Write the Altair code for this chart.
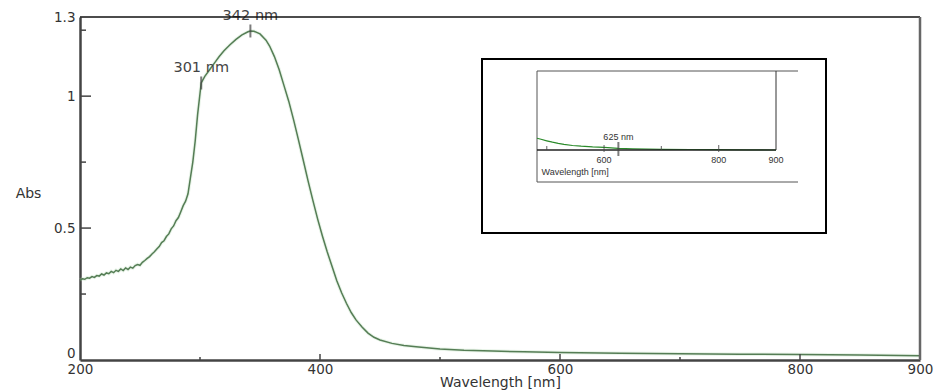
import altair as alt
import pandas as pd

# ---------------- data ----------------
wavelength = [200, 202, 204, 206, 208, 210, 212, 214, 216, 218, 220, 222, 224, 226, 228,
              230, 232, 234, 236, 238, 240, 242, 244, 246, 248, 250, 252, 254, 256, 258,
              260, 262, 264, 266, 268, 270, 272, 274, 276, 278, 280, 282, 284, 286, 288,
              290, 292, 294, 296, 298, 300, 301, 304, 308, 312, 316, 320, 325, 330, 335,
              340, 342, 345, 350, 355, 358, 362, 366, 370, 374, 378, 382, 386, 390, 394,
              398, 402, 406, 410, 414, 418, 422, 426, 430, 435, 440, 445, 450, 460, 470,
              480, 500, 520, 544, 570, 600, 650, 700, 750, 800, 850, 900]
absorbance = [0.303, 0.308, 0.306, 0.312, 0.310, 0.316, 0.313, 0.320, 0.318, 0.326, 0.322,
              0.330, 0.327, 0.336, 0.331, 0.340, 0.336, 0.345, 0.339, 0.349, 0.343, 0.352,
              0.348, 0.358, 0.362, 0.359, 0.370, 0.377, 0.385, 0.392, 0.402, 0.410, 0.421,
              0.430, 0.445, 0.452, 0.468, 0.478, 0.497, 0.508, 0.528, 0.540, 0.562, 0.585,
              0.602, 0.630, 0.690, 0.750, 0.830, 0.930, 1.010, 1.050, 1.075, 1.100, 1.125,
              1.150, 1.172, 1.195, 1.215, 1.232, 1.244, 1.247, 1.246, 1.236, 1.212, 1.190,
              1.150, 1.100, 1.040, 0.980, 0.910, 0.835, 0.758, 0.680, 0.606, 0.535, 0.470,
              0.410, 0.355, 0.300, 0.255, 0.215, 0.180, 0.152, 0.125, 0.102, 0.086, 0.076,
              0.063, 0.055, 0.050, 0.042, 0.037, 0.034, 0.031, 0.028, 0.026, 0.024, 0.022,
              0.021, 0.019, 0.016]

peak_wl = [301, 342]
peak_abs = [1.05, 1.247]
peak_text = ["301 nm", "342 nm"]

x_label_values = [200, 400, 600, 800, 900]
y_label_values = [0, 0.5, 1, 1.3]
x_major_ticks = [400, 600, 800]
x_minor_ticks = [300, 500, 700]
y_major_ticks = [0.5, 1.0]
y_minor_ticks = [0.25, 0.75, 1.25]

inset_wl = [483, 490, 500, 510, 520, 530, 545, 560, 580, 600, 625, 650, 700, 750, 800, 850, 900]
inset_abs = [0.0453, 0.0428, 0.0390, 0.0355, 0.0325, 0.0300, 0.0273, 0.0255, 0.0238, 0.0228,
             0.0203, 0.0190, 0.0178, 0.0173, 0.0168, 0.0164, 0.0160]
inset_baseline = 0.016
inset_label_values = [600, 800, 900]
inset_major_ticks = [600, 800]
inset_minor_ticks = [500, 700]
inset_marker_wl = [625]
inset_marker_text = ["625 nm"]
inset_axis_title = "Wavelength [nm]"
inset_title_wl = 491

# ---------------- layout ----------------
W, H = 840, 343
FONT = "DejaVu Sans"
SMALL_FONT = "Liberation Sans"
TEXT = "#333333"
LINE = "#2b552b"

IN_L, IN_R = 457, 696          # x (px in plot) of 483 nm and 900 nm in the inset
IN_AXIS_Y = 133                # y (px in plot) of the inset baseline
IN_PX_PER_UNIT = 400.0
nm_per_px = (900 - 483) / (IN_R - IN_L)
inset_x_domain = [483 - IN_L * nm_per_px, 900 + (W - IN_R) * nm_per_px]
inset_y_domain = [inset_baseline - (H - IN_AXIS_Y) / IN_PX_PER_UNIT,
                  inset_baseline + IN_AXIS_Y / IN_PX_PER_UNIT]

main_df = pd.DataFrame({"wl": wavelength, "abs": absorbance})
peak_df = pd.DataFrame({"wl": peak_wl, "abs": peak_abs, "text": peak_text})
one = pd.DataFrame({"k": [0]})


def XS():
    return alt.Scale(domain=[200, 900], nice=False, zero=False)


def YS():
    return alt.Scale(domain=[0, 1.3], nice=False, zero=False)


def IXS():
    return alt.Scale(domain=inset_x_domain, nice=False, zero=False)


def IYS():
    return alt.Scale(domain=inset_y_domain, nice=False, zero=False)


line = alt.Chart(main_df).mark_line(color=LINE, strokeWidth=1.5).encode(
    x=alt.X("wl:Q", scale=XS(),
            axis=alt.Axis(values=x_label_values, title="Wavelength [nm]", ticks=False,
                          labelPadding=2, labelFlush=False, format="d", labelFontSize=13.5,
                          titleY=22.5, titleX=W / 2, titleBaseline="middle", titleFontSize=14)),
    y=alt.Y("abs:Q", scale=YS(),
            axis=alt.Axis(values=y_label_values, title="Abs", ticks=False, labelPadding=5,
                          labelFlush=False, format=".2~f", labelFontSize=13.5,
                          labelOffset={"condition": {"test": "datum.value == 0", "value": -7},
                                       "value": 0},
                          titleAngle=0, titleX=-52, titleY=176, titleAlign="center",
                          titleBaseline="middle", titleFontSize=14)))

halo = alt.Chart(main_df).mark_line(color="#b5dcb5", strokeWidth=3.5, opacity=0.3).encode(
    x=alt.X("wl:Q", scale=XS(), axis=None), y=alt.Y("abs:Q", scale=YS(), axis=None))


def xticks(vals, length):
    return alt.Chart(pd.DataFrame({"wl": vals})).mark_rule(color="#444", strokeWidth=1.5).encode(
        x=alt.X("wl:Q", scale=XS(), axis=None), y=alt.value(H), y2=alt.value(H - length))


def yticks(vals, length):
    return alt.Chart(pd.DataFrame({"v": vals})).mark_rule(color="#444", strokeWidth=1.5).encode(
        y=alt.Y("v:Q", scale=YS(), axis=None), x=alt.value(0), x2=alt.value(length))


peak_marks = alt.Chart(peak_df).mark_tick(orient="vertical", size=13, thickness=2,
                                         color="#444").encode(
    x=alt.X("wl:Q", scale=XS(), axis=None), y=alt.Y("abs:Q", scale=YS(), axis=None))
peak_labels = alt.Chart(peak_df).mark_text(font=FONT, fontSize=14.5, color="#444",
                                          dy=-14.5, baseline="middle").encode(
    x=alt.X("wl:Q", scale=XS(), axis=None), y=alt.Y("abs:Q", scale=YS(), axis=None),
    text="text:N")


def prule(x, x2, y, y2, color, width):
    return alt.Chart(one).mark_rule(color=color, strokeWidth=width).encode(
        x=alt.value(x), x2=alt.value(x2), y=alt.value(y), y2=alt.value(y2))


top_border = prule(0, W, 0, 0, "#111", 1.5)
right_border = prule(W, W, 0, H, "#666", 2.5)

# ---------------- inset ----------------
outer_box = alt.Chart(one).mark_rect(fill="white", stroke="black", strokeWidth=2).encode(
    x=alt.value(402), x2=alt.value(746), y=alt.value(42), y2=alt.value(216))
frame_top = prule(IN_L, 718, 54, 54, "#555", 1)
frame_left = prule(IN_L, IN_L, 54, 165, "#555", 1)
frame_bottom = prule(IN_L, 718, 165, 165, "#555", 1)
frame_right = prule(IN_R, IN_R, 54, IN_AXIS_Y, "#333", 1)

inset_df = pd.DataFrame({"wl": inset_wl, "abs": inset_abs})
inset_line = alt.Chart(inset_df).mark_line(color="#2a8a2a", strokeWidth=1.2).encode(
    x=alt.X("wl:Q", scale=IXS(), axis=None), y=alt.Y("abs:Q", scale=IYS(), axis=None))

inset_axis = alt.Chart(pd.DataFrame({"a": [483], "b": [900], "y": [inset_baseline]})).mark_rule(
    color="#222", strokeWidth=1.5).encode(
    x=alt.X("a:Q", scale=IXS(), axis=None), x2="b:Q", y=alt.Y("y:Q", scale=IYS(), axis=None))


def iticks(vals, size, off):
    d = pd.DataFrame({"wl": vals, "y": [inset_baseline] * len(vals)})
    return alt.Chart(d).mark_tick(orient="vertical", size=size, thickness=1.2, color="#444",
                                  yOffset=off).encode(
        x=alt.X("wl:Q", scale=IXS(), axis=None), y=alt.Y("y:Q", scale=IYS(), axis=None))


ilab_df = pd.DataFrame({"wl": inset_label_values, "y": [inset_baseline] * len(inset_label_values),
                        "t": [str(v) for v in inset_label_values]})
inset_labels = alt.Chart(ilab_df).mark_text(font=SMALL_FONT, fontSize=9, color=TEXT,
                                            dy=10, baseline="middle").encode(
    x=alt.X("wl:Q", scale=IXS(), axis=None), y=alt.Y("y:Q", scale=IYS(), axis=None), text="t:N")

ititle = alt.Chart(pd.DataFrame({"wl": [inset_title_wl], "y": [inset_baseline],
                                 "t": [inset_axis_title]})).mark_text(
    font=SMALL_FONT, fontSize=9, color=TEXT, dy=22, align="left", baseline="middle").encode(
    x=alt.X("wl:Q", scale=IXS(), axis=None), y=alt.Y("y:Q", scale=IYS(), axis=None), text="t:N")

imark_df = pd.DataFrame({"wl": inset_marker_wl, "y": [inset_baseline] * len(inset_marker_wl),
                         "t": inset_marker_text})
inset_marker = alt.Chart(imark_df).mark_tick(orient="vertical", size=14, thickness=2,
                                             color="#444", yOffset=-1).encode(
    x=alt.X("wl:Q", scale=IXS(), axis=None), y=alt.Y("y:Q", scale=IYS(), axis=None))
inset_marker_label = alt.Chart(imark_df).mark_text(font=SMALL_FONT, fontSize=9, color=TEXT,
                                                   dy=-13, baseline="middle").encode(
    x=alt.X("wl:Q", scale=IXS(), axis=None), y=alt.Y("y:Q", scale=IYS(), axis=None), text="t:N")

chart = alt.layer(
    line, halo, xticks(x_major_ticks, 6), xticks(x_minor_ticks, 3),
    yticks(y_major_ticks, 11), yticks(y_minor_ticks, 6),
    peak_marks, peak_labels, top_border, right_border,
    outer_box, frame_top, frame_left, frame_bottom, frame_right,
    inset_line, inset_axis, iticks(inset_major_ticks, 7, -1.5),
    iticks(inset_minor_ticks, 4, -2), inset_marker, inset_marker_label,
    inset_labels, ititle,
).resolve_scale(x="independent", y="independent").properties(
    width=W, height=H,
    background="white",
    autosize=alt.AutoSizeParams(type="none"),
    padding={"left": 80, "top": 17, "right": 16, "bottom": 30},
).configure_view(stroke=None).configure_axis(
    grid=False, domainColor="#444", domainWidth=2.5,
    labelFont=FONT, labelColor=TEXT,
    titleFont=FONT, titleFontWeight="normal", titleColor=TEXT,
)

chart.save("out.html", embed_options={"renderer": "svg", "actions": False})
